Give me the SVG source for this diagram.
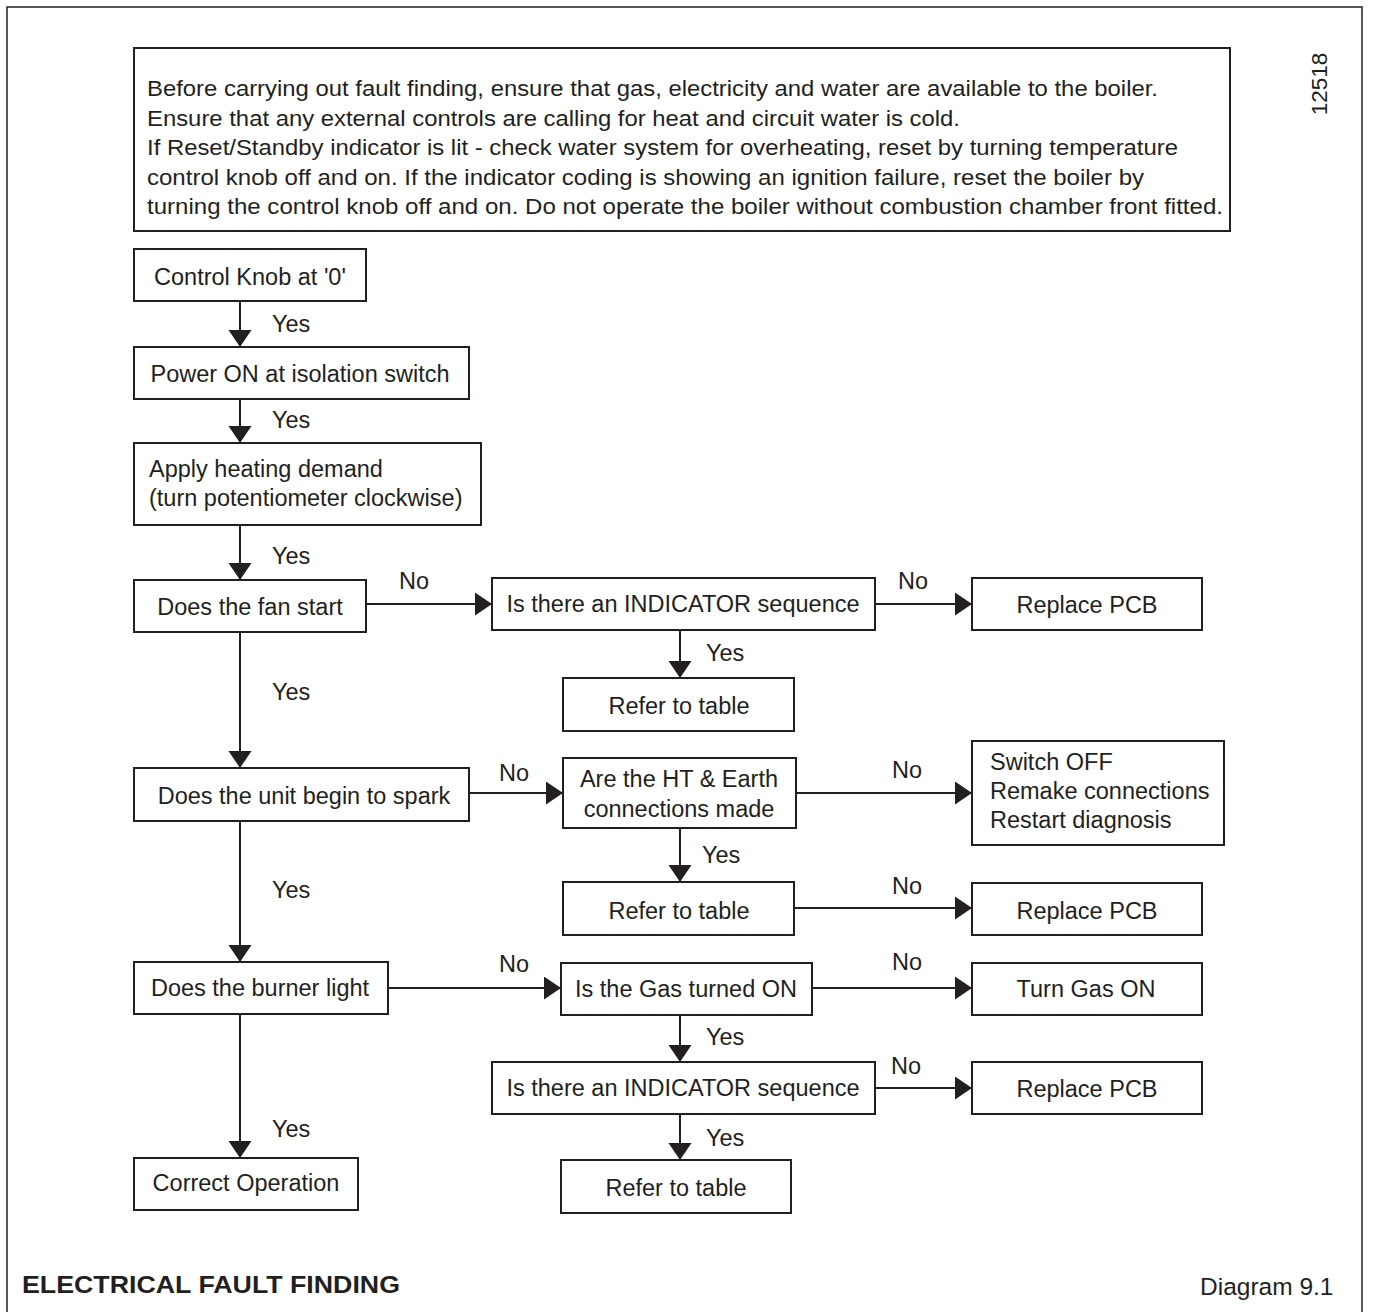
<svg xmlns="http://www.w3.org/2000/svg" width="1378" height="1312" viewBox="0 0 1378 1312">
<style>
.b{fill:#fff;stroke:#231f20;stroke-width:2}
.t{font-family:"Liberation Sans",Arial,sans-serif;font-size:23.5px;fill:#231f20}
.c{text-anchor:middle}
.n{font-family:"Liberation Sans",Arial,sans-serif;font-size:22.5px;fill:#231f20}
.l{fill:none;stroke:#231f20;stroke-width:2}
</style>
<defs>
<marker id="ah" markerUnits="userSpaceOnUse" markerWidth="18" markerHeight="24" refX="17" refY="11.5" orient="auto">
<path d="M0,0 L17,11.5 L0,23 Z" fill="#231f20"/>
</marker>
</defs>
<rect width="1378" height="1312" fill="#fff"/>
<path d="M7,1312 V7 H1362 V1312" fill="none" stroke="#231f20" stroke-width="1.5"/>
<text class="n" transform="translate(1327,84) rotate(-90)" text-anchor="middle" font-size="23">12518</text>

<g id="notes">
<rect class="b" x="134" y="48" width="1096" height="183"/>
<text class="n" x="147" y="96" textLength="1011" lengthAdjust="spacingAndGlyphs">Before carrying out fault finding, ensure that gas, electricity and water are available to the boiler.</text>
<text class="n" x="147" y="126" textLength="813" lengthAdjust="spacingAndGlyphs">Ensure that any external controls are calling for heat and circuit water is cold.</text>
<text class="n" x="147" y="155" textLength="1031" lengthAdjust="spacingAndGlyphs">If Reset/Standby indicator is lit - check water system for overheating, reset by turning temperature</text>
<text class="n" x="147" y="185" textLength="997" lengthAdjust="spacingAndGlyphs">control knob off and on.  If the indicator coding is showing an ignition failure, reset the boiler by</text>
<text class="n" x="147" y="214" textLength="1076" lengthAdjust="spacingAndGlyphs">turning the control knob off and on.  Do not operate the boiler without combustion chamber front fitted.</text>
</g>

<g id="connectors">
<line class="l" x1="240" y1="301" x2="240" y2="347" marker-end="url(#ah)"/>
<line class="l" x1="240" y1="399" x2="240" y2="443" marker-end="url(#ah)"/>
<line class="l" x1="240" y1="525" x2="240" y2="580" marker-end="url(#ah)"/>
<line class="l" x1="240" y1="632" x2="240" y2="768" marker-end="url(#ah)"/>
<line class="l" x1="240" y1="821" x2="240" y2="962" marker-end="url(#ah)"/>
<line class="l" x1="240" y1="1014" x2="240" y2="1158" marker-end="url(#ah)"/>
<line class="l" x1="366" y1="604" x2="492" y2="604" marker-end="url(#ah)"/>
<line class="l" x1="875" y1="604" x2="972" y2="604" marker-end="url(#ah)"/>
<line class="l" x1="680" y1="630" x2="680" y2="678" marker-end="url(#ah)"/>
<line class="l" x1="469" y1="793" x2="563" y2="793" marker-end="url(#ah)"/>
<line class="l" x1="796" y1="793" x2="972" y2="793" marker-end="url(#ah)"/>
<line class="l" x1="680" y1="828" x2="680" y2="882" marker-end="url(#ah)"/>
<line class="l" x1="794" y1="908" x2="972" y2="908" marker-end="url(#ah)"/>
<line class="l" x1="388" y1="988" x2="561" y2="988" marker-end="url(#ah)"/>
<line class="l" x1="812" y1="988" x2="972" y2="988" marker-end="url(#ah)"/>
<line class="l" x1="680" y1="1015" x2="680" y2="1062" marker-end="url(#ah)"/>
<line class="l" x1="875" y1="1088" x2="972" y2="1088" marker-end="url(#ah)"/>
<line class="l" x1="680" y1="1114" x2="680" y2="1160" marker-end="url(#ah)"/>
<text class="t" x="272" y="332">Yes</text>
<text class="t" x="272" y="428">Yes</text>
<text class="t" x="272" y="564">Yes</text>
<text class="t" x="272" y="700">Yes</text>
<text class="t" x="272" y="898">Yes</text>
<text class="t" x="272" y="1137">Yes</text>
<text class="t" x="399" y="589">No</text>
<text class="t" x="898" y="589">No</text>
<text class="t" x="706" y="661">Yes</text>
<text class="t" x="499" y="781">No</text>
<text class="t" x="892" y="778">No</text>
<text class="t" x="702" y="863">Yes</text>
<text class="t" x="892" y="894">No</text>
<text class="t" x="499" y="972">No</text>
<text class="t" x="892" y="970">No</text>
<text class="t" x="706" y="1045">Yes</text>
<text class="t" x="891" y="1074">No</text>
<text class="t" x="706" y="1146">Yes</text>
</g>

<g id="n1"><rect class="b" x="134" y="249" width="232" height="52"/><text class="t c" x="250" y="285">Control Knob at '0'</text></g>
<g id="n2"><rect class="b" x="134" y="347" width="335" height="52"/><text class="t c" x="300" y="382">Power ON at isolation switch</text></g>
<g id="n3"><rect class="b" x="134" y="443" width="347" height="82"/><text class="t" x="149" y="477">Apply heating demand</text><text class="t" x="149" y="506">(turn potentiometer clockwise)</text></g>
<g id="n4"><rect class="b" x="134" y="580" width="232" height="52"/><text class="t c" x="250" y="615">Does the fan start</text></g>
<g id="n5"><rect class="b" x="492" y="578" width="383" height="52"/><text class="t c" x="683" y="612">Is there an INDICATOR sequence</text></g>
<g id="n6"><rect class="b" x="972" y="578" width="230" height="52"/><text class="t c" x="1087" y="613">Replace PCB</text></g>
<g id="n7"><rect class="b" x="563" y="678" width="231" height="53"/><text class="t c" x="679" y="714">Refer to table</text></g>
<g id="n8"><rect class="b" x="134" y="768" width="335" height="53"/><text class="t c" x="304" y="804">Does the unit begin to spark</text></g>
<g id="n9"><rect class="b" x="563" y="758" width="233" height="70"/><text class="t c" x="679" y="787">Are the HT &amp; Earth</text><text class="t c" x="679" y="817">connections made</text></g>
<g id="n10"><rect class="b" x="972" y="741" width="252" height="104"/><text class="t" x="990" y="770">Switch OFF</text><text class="t" x="990" y="799">Remake connections</text><text class="t" x="990" y="828">Restart diagnosis</text></g>
<g id="n11"><rect class="b" x="563" y="882" width="231" height="53"/><text class="t c" x="679" y="919">Refer to table</text></g>
<g id="n12"><rect class="b" x="972" y="883" width="230" height="52"/><text class="t c" x="1087" y="919">Replace PCB</text></g>
<g id="n13"><rect class="b" x="134" y="962" width="254" height="52"/><text class="t c" x="260" y="996">Does the burner light</text></g>
<g id="n14"><rect class="b" x="561" y="963" width="251" height="52"/><text class="t c" x="686" y="997">Is the Gas turned ON</text></g>
<g id="n15"><rect class="b" x="972" y="963" width="230" height="52"/><text class="t c" x="1086" y="997">Turn Gas ON</text></g>
<g id="n16"><rect class="b" x="492" y="1062" width="383" height="52"/><text class="t c" x="683" y="1096">Is there an INDICATOR sequence</text></g>
<g id="n17"><rect class="b" x="972" y="1062" width="230" height="52"/><text class="t c" x="1087" y="1097">Replace PCB</text></g>
<g id="n18"><rect class="b" x="561" y="1160" width="230" height="53"/><text class="t c" x="676" y="1196">Refer to table</text></g>
<g id="n19"><rect class="b" x="134" y="1158" width="224" height="52"/><text class="t c" x="246" y="1191">Correct Operation</text></g>

<text class="t" x="22" y="1293" font-weight="bold" style="font-size:24px" textLength="378" lengthAdjust="spacingAndGlyphs">ELECTRICAL FAULT FINDING</text>
<text class="t" x="1200" y="1295" style="font-size:24.5px">Diagram 9.1</text>
</svg>
